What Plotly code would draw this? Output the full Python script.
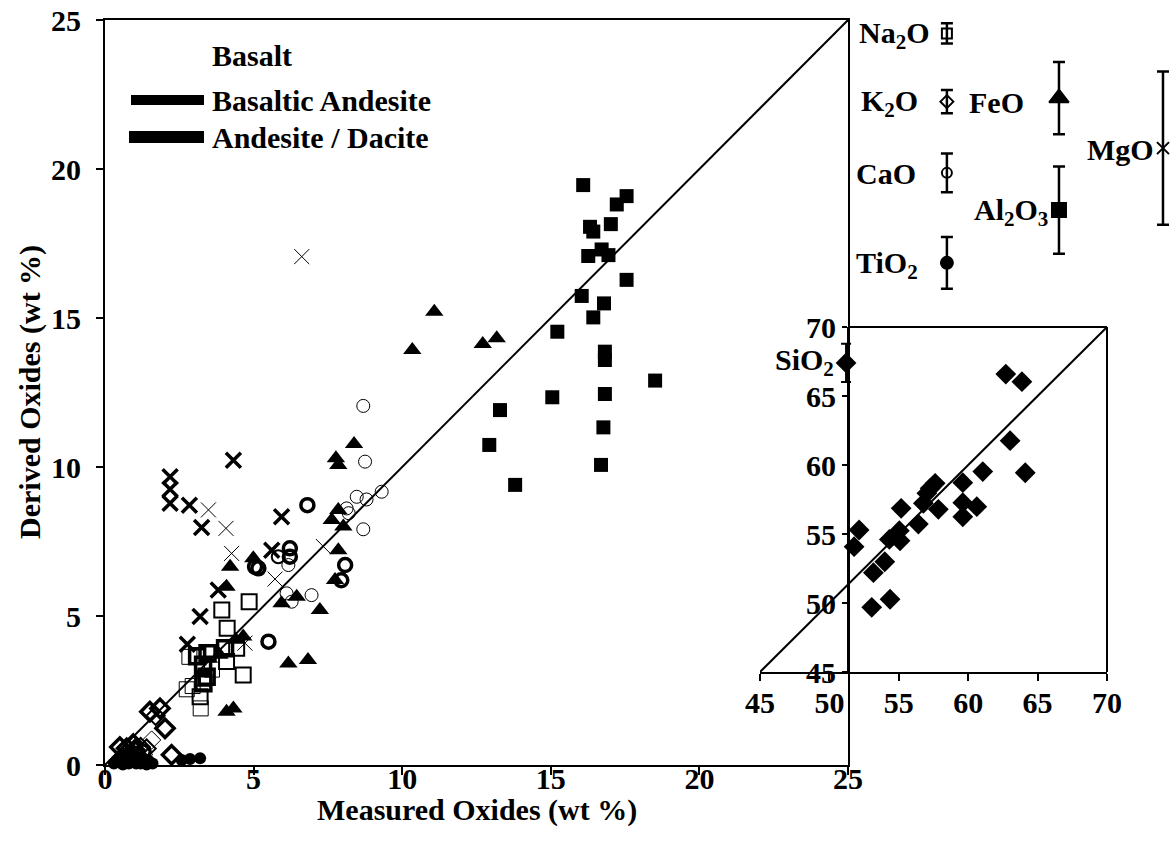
import plotly.graph_objects as go

# ---------------- data: main panel (Measured vs Derived, wt %) ----------------
# rock type codes: B = Basalt (thin), BA = Basaltic Andesite (medium), AD = Andesite / Dacite (bold)
na2o_meas = [4.85, 3.93, 4.11, 4.04, 4.43, 4.65, 2.84, 3.30, 4.09, 3.42, 3.31, 2.75, 3.20, 3.22, 3.31, 2.95, 3.10, 3.45, 3.60]
na2o_der  = [5.48, 5.20, 4.59, 3.92, 3.92, 3.02, 3.63, 3.36, 3.47, 2.96, 2.74, 2.54, 2.29, 1.90, 2.91, 2.65, 3.65, 3.75, 3.20]
na2o_rock = ['BA', 'BA', 'BA', 'AD', 'BA', 'BA', 'B', 'AD', 'BA', 'AD', 'AD', 'B', 'BA', 'B', 'BA', 'B', 'AD', 'AD', 'B']

k2o_meas = [1.51, 1.85, 2.02, 1.57, 0.73, 2.24, 1.00, 1.20, 0.90, 1.30, 0.60, 1.70, 1.10, 0.50, 1.40, 0.95]
k2o_der  = [1.79, 1.90, 1.23, 0.84, 0.56, 0.34, 0.50, 0.60, 0.30, 0.35, 0.25, 1.65, 0.30, 0.60, 0.55, 0.70]
k2o_rock = ['AD', 'AD', 'AD', 'B', 'AD', 'AD', 'AD', 'BA', 'AD', 'B', 'AD', 'BA', 'AD', 'AD', 'BA', 'AD']

cao_meas = [8.69, 8.75, 6.81, 8.47, 8.80, 9.31, 8.13, 8.69, 8.08, 6.22, 6.22, 6.17, 6.95, 5.16, 6.11, 6.28, 5.50, 5.05, 5.83, 8.20, 7.95, 0.80, 1.10, 1.30]
cao_der  = [12.05, 10.18, 8.72, 9.00, 8.91, 9.17, 8.61, 7.91, 6.71, 7.27, 6.99, 6.71, 5.70, 6.60, 5.76, 5.48, 4.14, 6.65, 6.99, 8.45, 6.20, 0.35, 0.15, 0.45]
cao_rock = ['B', 'B', 'AD', 'B', 'B', 'B', 'B', 'B', 'AD', 'AD', 'AD', 'B', 'B', 'AD', 'B', 'B', 'AD', 'AD', 'BA', 'B', 'AD', 'AD', 'AD', 'AD']

tio2_meas = [0.50, 0.70, 0.80, 0.90, 1.00, 1.10, 1.20, 1.30, 1.50, 2.58, 2.86, 3.20, 0.60, 1.40,
             0.30, 0.45, 0.65, 0.75, 0.95, 1.05, 1.25, 1.45, 1.60, 0.85]
tio2_der  = [0.10, 0.20, 0.05, 0.15, 0.10, 0.25, 0.05, 0.10, 0.10, 0.17, 0.20, 0.23, 0.02, 0.02,
             0.05, 0.20, 0.30, 0.10, 0.30, 0.05, 0.20, 0.15, 0.05, 0.40]

feo_meas = [11.08, 10.34, 12.71, 13.18, 8.38, 7.77, 7.85, 7.85, 7.63, 8.02, 7.85, 7.74, 6.45, 5.94, 4.99, 4.21, 4.09, 4.65, 6.17, 6.83, 4.09, 4.32, 7.23, 3.85, 4.40]
feo_der  = [15.21, 13.93, 14.13, 14.32, 10.77, 10.29, 10.07, 8.56, 8.22, 8.00, 7.21, 6.21, 5.65, 5.43, 6.94, 6.65, 5.98, 4.31, 3.41, 3.52, 1.79, 1.90, 5.20, 3.70, 4.20]

mgo_meas = [4.32, 2.84, 3.25, 5.94, 5.61, 3.81, 3.20, 2.77, 2.19, 2.19, 2.19, 6.62, 3.48, 4.07, 4.26, 5.72, 7.35, 4.71]
mgo_der  = [10.23, 8.72, 7.97, 8.33, 7.21, 5.87, 4.98, 4.05, 9.67, 9.25, 8.78, 17.06, 8.56, 7.94, 7.10, 6.24, 7.33, 4.09]
mgo_rock = ['AD', 'AD', 'AD', 'AD', 'AD', 'AD', 'AD', 'AD', 'AD', 'AD', 'AD', 'B', 'B', 'B', 'B', 'B', 'B', 'B']

al2o3_meas = [16.09, 17.55, 17.22, 16.32, 16.43, 17.02, 16.26, 16.71, 16.94, 17.55, 16.04, 16.79, 16.43, 15.22,
              16.82, 16.82, 18.51, 15.05, 16.82, 16.77, 16.69, 13.29, 12.93, 13.80]
al2o3_der  = [19.46, 19.09, 18.81, 18.06, 17.90, 18.15, 17.08, 17.30, 17.11, 16.28, 15.74, 15.49, 15.02, 14.54,
              13.87, 13.59, 12.90, 12.34, 12.45, 11.33, 10.07, 11.91, 10.74, 9.40]

# ---------------- data: inset (SiO2, wt %) ----------------
sio2_meas = [62.71, 63.87, 63.02, 64.11, 61.05, 59.61, 57.62, 57.26, 57.02, 56.77, 57.85, 59.61, 60.62, 59.61,
             55.17, 56.41, 55.04, 54.32, 55.09, 52.14, 51.78, 53.99, 53.17, 54.37, 53.05]
sio2_der  = [66.59, 66.04, 61.76, 59.44, 59.52, 58.72, 58.67, 58.31, 57.95, 57.22, 56.79, 57.27, 56.98, 56.25,
             56.86, 55.72, 55.24, 54.61, 54.51, 55.29, 54.08, 52.99, 52.20, 50.27, 49.69]

# typical uncertainty (error bar half-widths, wt %)
err_labels = ['Na<sub>2</sub>O', 'K<sub>2</sub>O', 'CaO', 'TiO<sub>2</sub>', 'FeO', 'Al<sub>2</sub>O<sub>3</sub>', 'MgO']
err_values = [0.34, 0.39, 0.65, 0.87, 1.21, 1.46, 2.57]
sio2_err = 1.38

rock_names = ['Basalt', 'Basaltic Andesite', 'Andesite / Dacite']
x_title = 'Measured Oxides (wt %)'
y_title = 'Derived Oxides (wt %)'

# ---------------- styling ----------------
W, H = 1173, 854
FONT = 'Liberation Serif'
FS = 30
weight = {'B': 1.0, 'BA': 2.0, 'AD': 3.5}

def px(x):
    return x / W

def py(y):
    return 1 - y / H

fig = go.Figure()

def open_trace(xv, yv, rock, symbol, size, name):
    fig.add_trace(go.Scatter(
        x=xv, y=yv, mode='markers', name=name, showlegend=False,
        marker=dict(symbol=symbol, size=size, color='black',
                    line=dict(color='black', width=[weight[r] for r in rock])),
        xaxis='x', yaxis='y', cliponaxis=False))

def filled_trace(xv, yv, symbol, size, name):
    fig.add_trace(go.Scatter(
        x=xv, y=yv, mode='markers', name=name, showlegend=False,
        marker=dict(symbol=symbol, size=size, color='black', line=dict(width=0)),
        xaxis='x', yaxis='y', cliponaxis=False))

# 1:1 line main
fig.add_trace(go.Scatter(x=[0, 25], y=[0, 25], mode='lines', line=dict(color='black', width=2),
                         showlegend=False, hoverinfo='skip', xaxis='x', yaxis='y'))

filled_trace(al2o3_meas, al2o3_der, 'square', 14, 'Al2O3')
filled_trace(feo_meas, feo_der, 'triangle-up', 16, 'FeO')
filled_trace(tio2_meas, tio2_der, 'circle', 12, 'TiO2')
open_trace(cao_meas, cao_der, cao_rock, 'circle-open', 13, 'CaO')
open_trace(na2o_meas, na2o_der, na2o_rock, 'square-open', 15, 'Na2O')
open_trace(k2o_meas, k2o_der, k2o_rock, 'diamond-open', 14, 'K2O')
open_trace(mgo_meas, mgo_der, mgo_rock, 'x-thin-open', 15, 'MgO')

# ---------------- inset ----------------
fig.add_trace(go.Scatter(x=[45, 70], y=[45, 70], mode='lines', line=dict(color='black', width=2),
                         showlegend=False, hoverinfo='skip', xaxis='x2', yaxis='y2'))
fig.add_trace(go.Scatter(x=sio2_meas, y=sio2_der, mode='markers', showlegend=False, name='SiO2',
                         marker=dict(symbol='diamond', size=16, color='black'),
                         xaxis='x2', yaxis='y2'))
# SiO2 error key
fig.add_trace(go.Scatter(x=[51.2], y=[67.4], mode='markers', showlegend=False,
                         marker=dict(symbol='diamond', size=16, color='black'),
                         error_y=dict(type='constant', value=sio2_err, color='black', thickness=2, width=5),
                         xaxis='x2', yaxis='y2', cliponaxis=False))

# ---------------- error-bar key (right) ----------------
key_x = [0.30, 0.30, 0.30, 0.30, 0.647, 0.647, 0.969]
key_y = [24.55, 22.26, 19.87, 16.85, 22.38, 18.62, 20.70]
key_sym = ['square-open', 'diamond-open', 'circle-open', 'circle', 'triangle-up', 'square', 'x-thin-open']
key_size = [10, 10, 10, 12, 17, 14, 12]
for i in range(7):
    fig.add_trace(go.Scatter(
        x=[key_x[i]], y=[key_y[i]], mode='markers', showlegend=False, name=err_labels[i],
        marker=dict(symbol=key_sym[i], size=key_size[i], color='black', line=dict(color='black', width=2)),
        error_y=dict(type='constant', value=err_values[i], color='black', thickness=2.5, width=6),
        xaxis='x3', yaxis='y', cliponaxis=False))

tfont = dict(family=FONT, size=FS, color='black', weight='bold')
label_pos = [(932, 35), (920, 103), (918, 173), (920, 265), (1026, 102), (1050, 212), (1156, 150)]
annotations = []
for (lx, ly), txt in zip(label_pos, err_labels):
    annotations.append(dict(x=px(lx), y=py(ly), xref='paper', yref='paper', text=txt, showarrow=False,
                            xanchor='right', yanchor='middle', font=tfont))
annotations.append(dict(x=px(836), y=py(362), xref='paper', yref='paper', text='SiO<sub>2</sub>', showarrow=False,
                        xanchor='right', yanchor='middle', font=tfont))

# rock-type legend
for name, ly in zip(rock_names, [56, 100, 137]):
    annotations.append(dict(x=px(210), y=py(ly), xref='paper', yref='paper', text=name, showarrow=False,
                            xanchor='left', yanchor='middle', font=tfont))

# axis titles
annotations.append(dict(x=px(477), y=py(810), xref='paper', yref='paper', text=x_title, showarrow=False,
                        xanchor='center', yanchor='middle', font=tfont))
annotations.append(dict(x=px(30), y=py(392), xref='paper', yref='paper', text=y_title, showarrow=False,
                        xanchor='center', yanchor='middle', textangle=-90, font=tfont))

shapes = [
    dict(type='rect', xref='paper', yref='paper', x0=px(760), x1=px(1107), y0=py(672), y1=py(327),
         fillcolor='white', line=dict(width=0), layer='below'),
    dict(type='line', xref='paper', yref='paper', x0=px(848), x1=px(1107), y0=py(327), y1=py(327),
         line=dict(color='black', width=2)),
    dict(type='line', xref='paper', yref='paper', x0=px(1107), x1=px(1107), y0=py(327), y1=py(672),
         line=dict(color='black', width=2)),
    dict(type='line', xref='paper', yref='paper', x0=px(131), x1=px(204), y0=py(100), y1=py(100),
         line=dict(color='black', width=10)),
    dict(type='line', xref='paper', yref='paper', x0=px(129), x1=px(204), y0=py(137), y1=py(137),
         line=dict(color='black', width=12)),
]

common = dict(ticks='outside', tickwidth=2, tickcolor='black', showline=True, linecolor='black',
              linewidth=2, showgrid=False, zeroline=False, tickfont=tfont, automargin=False)
fig.update_layout(
    width=W, height=H,
    margin=dict(l=0, r=0, t=0, b=0, autoexpand=False),
    paper_bgcolor='white', plot_bgcolor='rgba(0,0,0,0)',
    showlegend=False,
    font=dict(family=FONT, size=FS, color='black'),
    xaxis=dict(domain=[px(105), px(848)], range=[0, 25], tickvals=[0, 5, 10, 15, 20, 25],
               ticklen=8, mirror=True, anchor='y', ticklabelstandoff=-22, **common),
    yaxis=dict(domain=[py(765), py(20)], range=[0, 25], tickvals=[0, 5, 10, 15, 20, 25],
               ticklen=7, mirror=True, anchor='x', ticklabelstandoff=9, **common),
    xaxis2=dict(domain=[px(760), px(1107)], range=[45, 70], tickvals=[45, 50, 55, 60, 65, 70],
                ticklen=7, anchor='y2', ticklabelstandoff=-4, **common),
    yaxis2=dict(domain=[py(672), py(327)], range=[45, 70], tickvals=[45, 50, 55, 60, 65, 70],
                ticklen=5, anchor='free', position=px(848), ticklabelstandoff=0, **common),
    xaxis3=dict(domain=[px(850), 1.0], range=[0, 1], visible=False, anchor='y'),
    annotations=annotations,
    shapes=shapes,
)
fig.write_html('out.html')
